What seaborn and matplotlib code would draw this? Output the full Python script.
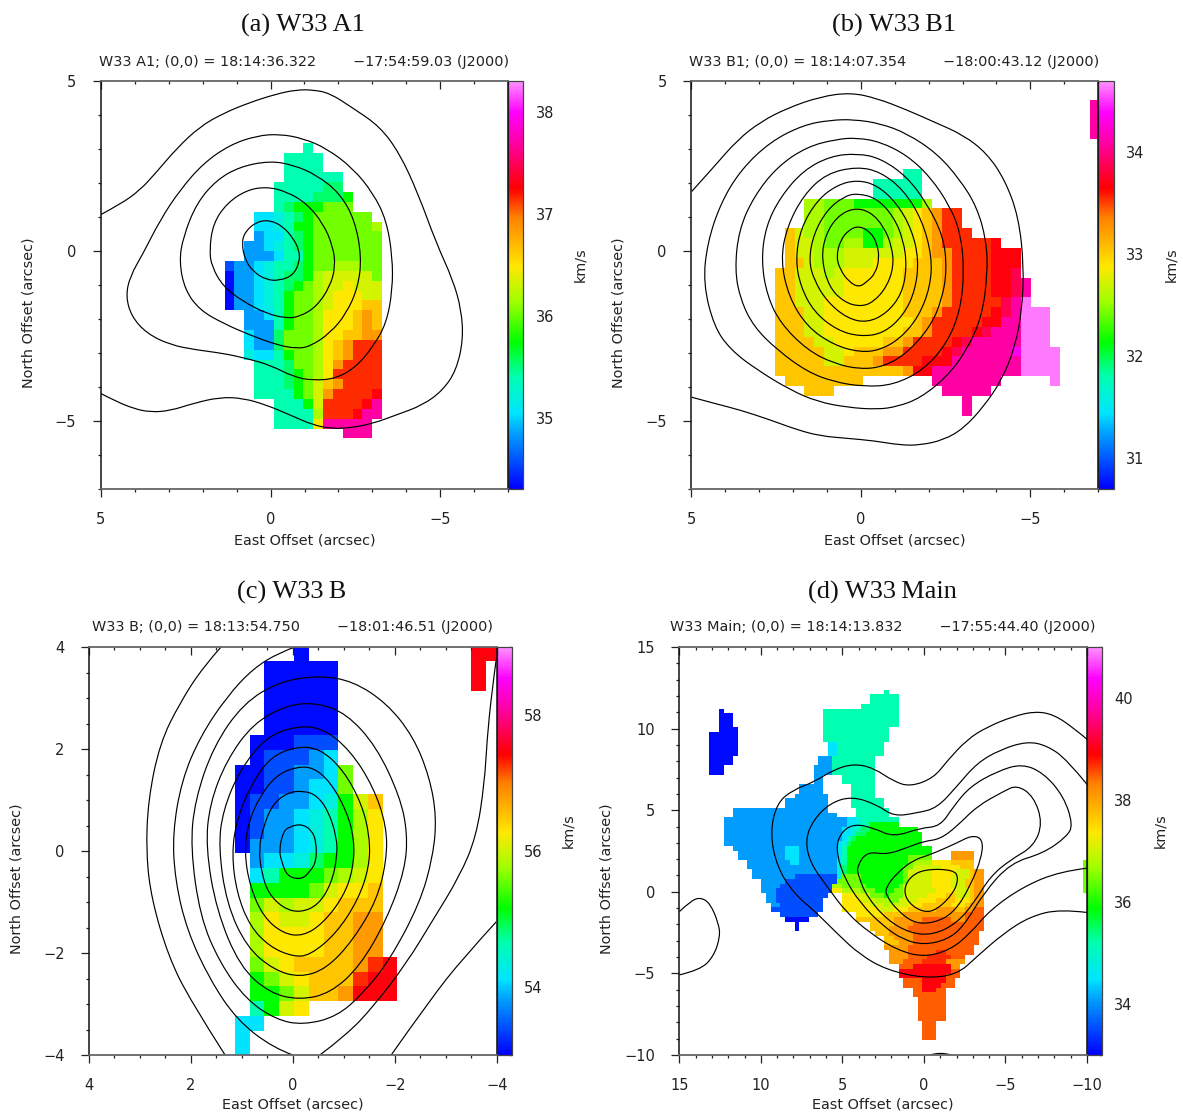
import re
import numpy as np
import matplotlib
matplotlib.use('Agg')
import matplotlib.pyplot as plt
from matplotlib.colors import LinearSegmentedColormap
from matplotlib.patches import PathPatch
from matplotlib.path import Path
from matplotlib.ticker import MultipleLocator
import seaborn as sns

# Each letter in the rows below is a velocity read from the colour of a cell,
# given as the fraction of that panel's colour bar range.
LEVELS = {'B': .01, 'b': .07, 'a': .135, 'C': .185, 'c': .225, 't': .275, 'g': .31, 'G': .36,
          'l': .43, 'L': .47, 'y': .505, 'Y': .545, 'o': .585, 'O': .635, 'q': .685, 'r': .712, 'R': .745,
          'p': .79, 'm': .85, 'M': .91, 'P': .985}

# (first column, cells), '.' is a blank cell
A1_ROWS = [(8, 't'), (6, 'tttt'), (6, 'tttt'), (6, 'tttttt'), (5, 'tttttgg'), (5, 'ttttgggG'),
           (5, 'tgGGGlll'), (3, 'CCctgGllllll'), (3, 'CCctGGllllllL'), (3, 'aCCtgGlllllll'),
           (2, 'aaCctgGlllllll'), (2, 'aaaCttGlllllll'), (0, 'baaCcttgGllLLLll'), (0, 'BaaCctggGLyyyyyl'),
           (0, 'BaaCctgGlLyyYyyy'), (0, 'BaaCctGllLyYYYyy'), (0, 'BaaCctGllLyYYYoo'), (2, 'aaCtGllLYYYoOo'),
           (2, 'aaatGllLYYYoOo'), (2, 'CaaglllLYYooOO'), (2, 'CaaglllLYoOrrr'), (2, 'cCCtGllLYoOrrr'),
           (3, 'tttgllLYOrrrr'), (3, 'tttgGlLYrrrrr'), (3, 'tttgGlyoOrrrr'), (3, 'ttttGlyOrrrrR'),
           (5, 'tttGyrrrrRm'), (5, 'ttttLrrrRmm'), (5, 'ttttYmmmmm'), (12, 'mmm')]

B1_ROWS = [(32, 'm'), (32, 'm'), (32, 'm'), (32, 'm'), (0, ''), (0, ''), (0, ''),
           (13, 'tt'), (10, 'ttttt'), (10, 'ttttt'), (3, 'LLlllGGGGGGGL'), (3, 'LLlllllllLyYoOrr'),
           (3, 'LLlllllllLyYoOrr'), (1, 'oyLLllllGGlLyYoOrrr'), (1, 'oyyLllLLGGLyyYoOrrrrrR'),
           (1, 'oyyLLLyyyyyyYYoOOrrrrRRR'), (1, 'ooyLLLyyyYYYYoooOrrrrRRR'), (0, 'ooyyyLyYYYYYYooooOrrrrRRp'),
           (0, 'ooyyyyyYYYYYYooooOrrrrRRpm'), (0, 'ooyyyyyYYYYYYooooOrrrrRRpm'), (0, 'ooyyyYYYYYYYYooooOrrrrrpmP'),
           (0, 'oooyyYYYYYYYYoooOrrrrrRpmPPP'), (0, 'oooyyYYYYYYYYYoOrrrrrRRmmPPP'),
           (0, 'oooyyYYYYYYYYooOrrrrRpmmmPPP'), (0, 'ooooyyYYYYYooOrrrrRpmmmmmPPP'),
           (0, 'oooooyyYoooOOrrrrRpmmmmmMPPPP'), (0, 'oooooyyoooOrrrrRRRmmmmmmmPPPP'),
           (0, 'oooooooooooooORRmmmmmmmmmPPPP'), (1, 'oooooooo.......mmmmmmm.....P'),
           (3, 'ooo...........mmmmm'), (19, 'm'), (19, 'm')]

B_ROWS = [(4, 'B...........RR'), (2, 'BBBBB.........R'), (2, 'BBBBB.........R'), (2, 'BBBBB'), (2, 'BBBBB'),
          (2, 'BBBBB'), (1, 'BBBbbb'), (1, 'BbbbaC'), (0, 'BBbbaaCl'), (0, 'BBbbaCCl'), (0, 'BbbaaCcGyo'),
          (0, 'BbaaCctGLY'), (0, 'BbaaCctGLY'), (0, 'BaaaCctGLY'), (1, 'aCCcgGGLY'), (1, 'CtGGGlLyY'),
          (1, 'GGGGlyYYo'), (1, 'lyLyyYooo'), (1, 'LYyyYooOO'), (1, 'LYYYYooOO'), (1, 'LYYYYooOO'),
          (1, 'lyYooooOrR'), (1, 'GlyYooorRR'), (1, 'GGlyooORRR'), (1, 'tGyY'), (0, 'CC'), (0, 'C'), (0, 'C')]

# W33 Main has finer cells, so its rows are runs: first-last column + letter
MAIN_ROWS = ["37t", "34-39t", "34-39t", "32-39t", "2B 24-39t", "2-4B 24-39t", "2-4B 24-39t", "2-4B 24-39t",
             "2-5B 24-37t", "0-5B 24-37t", "0-5B 24-37t", "0-5B 25-26C 27-36t", "0-5B 25-26C 27-36t",
             "0-5B 25-26C 27-36t", "0-4B 23-25a 26-34t", "0-4B 23-25a 26-34t", "0-2B 22-25a 26-34t",
             "0-2B 22-25a 26-34t", "22-23a 28-34t", "22-23a 28-34t", "19-23a 30-34t", "19-23a 30-34t",
             "18-24a 30-34t", "16-24a 30-36t", "16-24a 30-36t", "5-24a 31-37t", "5-26a 31-37t",
             "3-28a 29-30C 31c 32-39t", "3-28a 29-30C 31c 32-33t 34-39G",
             "3-27a 28-29C 30c 31t 32-33g 34-43G", "3-27a 28-29C 30c 31-32g 33-44G",
             "3-27a 28C 29t 30g 31-44G", "3-26a 27C 28c 29g 30-44G",
             "5-15a 16-18C 19-26a 27C 28t 29-46G", "6-15a 16-18C 19-26a 27C 28t 29-46G 51-55O",
             "6-15a 16-18C 19-26a 27C 28t 29-41G 42-46l 51-55O",
             "8-16a 17-18C 19-26a 27c 28t 29-41G 42l 43-46L 47-50Y 51-55o 79-80l",
             "8-26a 27c 28g 29-40G 41-42l 43-48y 49-52Y 53-55o 79-80l",
             "9-26a 27c 28g 29-40G 41l 42-46y 47-51Y 52-54y 55o 56-57O 79-80l",
             "9-17a 18-26b 27c 28-31l 32-40G 41l 42-46y 47-50Y 51-54y 55o 56-57O 79-80l",
             "11-15a 16-26b 27-31l 32-40G 41l 42-46y 47-50Y 51-53y 54-55o 56-57O 79-80l",
             "11-14a 15-25b 26-27L 28-32l 33-39G 40l 41-46y 47-50Y 51-53y 54-55o 56-57O 79-80l",
             "11-13a 14-25b 26-27Y 28-31L 32-34l 35-38G 39-40l 41-47y 48-51Y 52-54y 55o 56-57O 79-80l",
             "12-13a 14-24b 28-30Y 31-33y 34-36l 37G 38-40l 41-45y 46-49Y 50-51o 52-54y 55o 56-57O",
             "12-13a 14-23b 28-31Y 32-34y 35-37L 38-39l 40-43y 44-47Y 48-51o 52-54Y 55o 56-57O",
             "13-14a 15-23b 28-33Y 34-36y 37L 38-41y 42-44Y 45-50o 51-53Y 54o 55-57O",
             "13-23b 28-35Y 36-38y 39-41Y 42-47o 48-51O 52-53o 54-55O 56-57q",
             "15-22b 31-36Y 37-40o 41-53O 54-57q", "16-20B 31-38o 39-44O 45-50q 51-53O 54-57q",
             "18B 34-38o 39-42O 43-57q", "18B 34-37o 38-41O 42-57q", "35-37o 38-42O 43-56q",
             "37-38o 39-42O 43-56q", "37-39o 40-42O 43-56q", "37-41O 42-55q", "38-41O 42-47q 48-49r 50-55q",
             "38-41O 42-45q 46-50r 51-53q", "38-40O 41-44q 45-49r 50-53O", "40-42q 43-50R 51-52O",
             "40-50R 51-52q", "40-49R 50-52q", "41-44q 45-49R 50-51q", "41-44q 45-48R 49-51q",
             "43-44q 45-47R 48-49q", "43-49q", "44-49q", "44-49q", "44-49q", "44-49q", "44-49q",
             "45-47q", "45-47q", "45-47q", "45-47q"]

# Contours in arcsec, (east, north).
A1_OPEN = [[(5.0, 1.07), (4.43, 1.37), (3.84, 1.79), (3.35, 2.33), (2.76, 3.02), (2.08, 3.66), (1.39, 4.05),
            (0.61, 4.37), (-0.18, 4.62), (-0.76, 4.74), (-1.25, 4.74), (-1.75, 4.64), (-2.43, 4.20), (-3.22, 3.66),
            (-3.80, 2.87), (-4.34, 1.70), (-4.88, 0.23), (-5.37, -0.85), (-5.62, -1.74), (-5.67, -2.62),
            (-5.47, -3.50), (-5.08, -4.09), (-4.49, -4.53), (-3.71, -4.82), (-3.02, -5.07), (-2.43, -5.19),
            (-1.84, -5.23), (-1.25, -5.12), (-0.57, -4.82), (0.12, -4.53), (0.80, -4.33), (1.49, -4.30),
            (2.27, -4.48), (2.96, -4.70), (3.55, -4.74), (4.04, -4.63), (4.53, -4.43), (5.0, -4.19)]]
A1_CLOSED = [[(4.26, -1.34), (4.14, -0.75), (3.75, -0.07), (3.25, 0.91), (2.67, 1.79), (1.98, 2.58), (1.20, 3.12),
              (0.41, 3.39), (-0.27, 3.44), (-0.96, 3.31), (-1.65, 3.02), (-2.43, 2.43), (-3.02, 1.70), (-3.41, 0.91),
              (-3.59, -0.17), (-3.59, -1.15), (-3.41, -2.13), (-3.02, -2.81), (-2.53, -3.40), (-1.94, -3.75),
              (-1.25, -3.81), (-0.67, -3.70), (0.02, -3.35), (0.71, -3.16), (1.39, -3.01), (2.18, -2.91),
              (2.96, -2.76), (3.65, -2.42), (4.09, -1.93)],
             [(2.69, -0.31), (2.57, 0.42), (2.18, 1.40), (1.59, 2.09), (0.90, 2.48), (0.02, 2.65), (-0.67, 2.53),
              (-1.35, 2.24), (-2.04, 1.70), (-2.48, 0.91), (-2.68, -0.17), (-2.58, -1.05), (-2.24, -1.83),
              (-1.75, -2.42), (-1.16, -2.81), (-0.76, -2.87), (-0.18, -2.76), (0.61, -2.47), (1.39, -2.13),
              (2.08, -1.74), (2.52, -1.15)],
             [(1.80, 0.03), (1.69, 0.81), (1.29, 1.40), (0.71, 1.79), (0.12, 1.89), (-0.47, 1.75), (-1.06, 1.40),
              (-1.55, 0.81), (-1.84, 0.13), (-1.91, -0.46), (-1.75, -1.05), (-1.35, -1.64), (-0.86, -1.93),
              (-0.47, -1.98), (0.12, -1.84), (0.80, -1.49), (1.39, -1.05), (1.73, -0.46)],
             [(0.85, 0.23), (0.75, 0.57), (0.41, 0.86), (0.02, 0.91), (-0.37, 0.72), (-0.67, 0.37), (-0.84, 0.03),
              (-0.86, -0.31), (-0.67, -0.71), (-0.27, -0.87), (0.12, -0.85), (0.51, -0.61), (0.75, -0.26)]]

B1_OPEN = [[(4.98, 1.75), (4.32, 2.48), (3.64, 3.26), (2.95, 3.80), (2.17, 4.20), (1.19, 4.54), (0.30, 4.66),
            (-0.48, 4.49), (-1.36, 4.15), (-2.15, 3.80), (-3.03, 3.41), (-3.72, 2.87), (-4.25, 2.09), (-4.65, 1.01),
            (-4.81, -0.46), (-4.75, -1.74), (-4.55, -2.81), (-4.16, -3.79), (-3.62, -4.58), (-3.03, -5.22),
            (-2.44, -5.56), (-1.75, -5.71), (-1.17, -5.71), (-0.38, -5.58), (0.40, -5.51), (1.19, -5.44),
            (1.87, -5.26), (2.66, -4.97), (3.54, -4.68), (4.32, -4.48), (4.98, -4.30)]]
B1_CLOSED = [[(4.64, -0.95), (4.52, 0.23), (4.13, 1.40), (3.54, 2.38), (2.66, 3.22), (1.68, 3.71), (0.89, 3.85),
              (0.21, 3.87), (-0.58, 3.75), (-1.36, 3.46), (-2.25, 2.87), (-2.93, 2.09), (-3.42, 1.30), (-3.70, 0.32),
              (-3.74, -0.66), (-3.57, -1.93), (-3.13, -2.91), (-2.54, -3.70), (-1.75, -4.33), (-1.07, -4.58),
              (-0.48, -4.66), (0.40, -4.60), (1.28, -4.43), (2.07, -4.09), (3.05, -3.50), (3.83, -2.91), (4.32, -2.23)],
             [(3.71, -0.56), (3.59, 0.62), (3.15, 1.60), (2.46, 2.48), (1.58, 3.07), (0.70, 3.29), (0.11, 3.33),
              (-0.58, 3.21), (-1.36, 2.82), (-2.05, 2.18), (-2.64, 1.30), (-2.94, 0.52), (-3.05, -0.56), (-2.94, -1.74),
              (-2.54, -2.72), (-1.85, -3.50), (-0.97, -3.94), (-0.09, -3.99), (0.79, -3.85), (1.58, -3.55),
              (2.46, -2.91), (3.15, -2.23), (3.54, -1.44)],
             [(2.93, -0.31), (2.80, 0.72), (2.36, 1.60), (1.68, 2.38), (0.89, 2.79), (0.11, 2.87), (-0.58, 2.73),
              (-1.36, 2.19), (-1.95, 1.40), (-2.44, 0.42), (-2.54, -0.56), (-2.39, -1.44), (-2.05, -2.23),
              (-1.36, -3.01), (-0.68, -3.40), (0.01, -3.48), (0.79, -3.31), (1.58, -2.91), (2.36, -2.13), (2.75, -1.34)],
             [(2.36, -0.26), (2.17, 0.72), (1.68, 1.65), (1.01, 2.28), (0.11, 2.48), (-0.58, 2.33), (-1.27, 1.79),
              (-1.81, 0.91), (-2.10, -0.17), (-2.05, -1.05), (-1.71, -1.93), (-1.17, -2.57), (-0.58, -2.91),
              (0.01, -2.98), (0.79, -2.77), (1.58, -2.23), (2.12, -1.35)],
             [(1.92, -0.26), (1.77, 0.67), (1.28, 1.50), (0.70, 1.94), (0.11, 2.09), (-0.48, 1.94), (-1.07, 1.40),
              (-1.51, 0.62), (-1.71, -0.26), (-1.61, -1.15), (-1.27, -1.88), (-0.68, -2.42), (0.01, -2.52),
              (0.70, -2.33), (1.38, -1.79), (1.77, -1.05)],
             [(1.53, -0.26), (1.38, 0.52), (0.99, 1.21), (0.50, 1.60), (0.11, 1.70), (-0.48, 1.55), (-0.97, 1.01),
              (-1.26, 0.32), (-1.36, -0.46), (-1.22, -1.25), (-0.77, -1.83), (-0.19, -2.11), (0.40, -1.98),
              (0.99, -1.49), (1.38, -0.85)],
             [(1.16, -0.22), (1.04, 0.47), (0.70, 1.01), (0.21, 1.27), (-0.28, 1.16), (-0.68, 0.72), (-0.92, 0.13),
              (-0.97, -0.46), (-0.77, -1.05), (-0.38, -1.50), (0.01, -1.64), (0.50, -1.50), (0.94, -1.05)],
             [(0.72, -0.17), (0.60, 0.32), (0.35, 0.62), (0.06, 0.74), (-0.28, 0.57), (-0.48, 0.23), (-0.55, -0.22),
              (-0.43, -0.66), (-0.19, -0.90), (0.06, -1.07), (0.35, -0.90), (0.60, -0.56)]]

B_OPEN = [[(-0.07, 4.01), (0.25, 3.90), (0.78, 3.58), (1.30, 3.02), (1.82, 2.24), (2.18, 1.39), (2.36, 0.35),
           (2.31, -0.57), (2.08, -1.55), (1.63, -2.52), (1.10, -3.31), (0.39, -3.86), (0.00, -4.00)],
          [(1.40, 4.01), (1.76, 3.61), (2.22, 2.90), (2.61, 2.11), (2.84, 1.00), (2.88, -0.05), (2.77, -0.96),
           (2.44, -2.07), (2.02, -2.92), (1.33, -4.00)],
          [(-3.99, 3.75), (-3.90, 3.09), (-3.81, 2.18), (-3.76, 1.33), (-3.60, 0.28), (-3.27, -0.50), (-2.75, -1.35),
           (-2.23, -2.20), (-1.58, -3.05), (-1.05, -3.61), (-0.53, -4.00)],
          [(-3.99, -1.39), (-3.34, -2.10), (-2.69, -2.92), (-1.93, -4.00)]]
B_CLOSED = [[(0.27, 0.02), (0.19, 0.38), (0.06, 0.48), (-0.17, 0.53), (-0.37, 0.41), (-0.46, 0.18), (-0.46, -0.21),
             (-0.33, -0.41), (-0.17, -0.56), (0.11, -0.50), (0.22, -0.21)],
            [(0.67, 0.02), (0.58, 0.48), (0.39, 0.93), (0.09, 1.15), (-0.20, 1.18), (-0.46, 1.10), (-0.69, 0.80),
             (-0.86, 0.28), (-0.87, -0.11), (-0.76, -0.63), (-0.50, -1.06), (-0.14, -1.21), (0.19, -1.12),
             (0.48, -0.83), (0.61, -0.44)],
            [(0.95, -0.05), (0.88, 0.54), (0.65, 1.07), (0.32, 1.49), (-0.07, 1.65), (-0.40, 1.64), (-0.73, 1.36),
             (-1.05, 0.80), (-1.21, 0.22), (-1.18, -0.37), (-0.99, -0.90), (-0.59, -1.42), (-0.20, -1.67),
             (0.19, -1.62), (0.58, -1.29), (0.84, -0.70)],
            [(1.20, -0.05), (1.10, 0.61), (0.84, 1.26), (0.45, 1.84), (-0.07, 2.05), (-0.53, 2.01), (-0.99, 1.59),
             (-1.35, 0.93), (-1.51, 0.28), (-1.50, -0.31), (-1.28, -0.96), (-0.85, -1.62), (-0.33, -2.05),
             (0.00, -2.07), (0.45, -1.88), (0.84, -1.48), (1.10, -0.83)],
            [(1.46, 0.08), (1.37, 0.80), (1.04, 1.59), (0.52, 2.24), (-0.07, 2.45), (-0.59, 2.41), (-1.12, 1.98),
             (-1.58, 1.26), (-1.84, 0.48), (-1.84, -0.18), (-1.65, -0.96), (-1.18, -1.75), (-0.66, -2.31),
             (-0.14, -2.48), (0.38, -2.33), (0.91, -1.88), (1.30, -1.03)],
            [(1.71, 0.08), (1.63, 0.93), (1.30, 1.78), (0.78, 2.50), (0.12, 2.86), (-0.46, 2.91), (-1.05, 2.70),
             (-1.64, 2.05), (-2.10, 1.07), (-2.25, 0.35), (-2.20, -0.37), (-1.84, -1.35), (-1.31, -2.27),
             (-0.73, -2.79), (-0.14, -2.92), (0.45, -2.79), (1.04, -2.27), (1.50, -1.16)],
            [(2.01, 0.08), (1.92, 1.00), (1.56, 2.05), (0.97, 2.90), (0.25, 3.33), (-0.53, 3.44), (-1.18, 3.33),
             (-1.84, 2.90), (-2.36, 2.25), (-2.68, 1.46), (-2.82, 0.67), (-2.75, -0.11), (-2.49, -1.03),
             (-1.90, -2.14), (-1.38, -2.79), (-0.86, -3.25), (-0.20, -3.41), (0.32, -3.31), (0.91, -2.92),
             (1.43, -2.20), (1.82, -1.29)]]

MAIN_OPEN = [[(-10.02, 9.33), (-9.18, 10.04), (-7.96, 10.86), (-6.83, 11.06), (-5.50, 10.76), (-3.87, 10.10),
              (-2.64, 9.33), (-1.41, 8.00), (-0.59, 6.97), (0.84, 6.44), (1.86, 6.77), (3.09, 7.59), (4.31, 7.85),
              (5.54, 7.48), (6.77, 6.71), (8.00, 6.26), (9.02, 5.44), (9.43, 3.60), (9.02, 1.55), (8.00, -0.08),
              (6.56, -1.31), (5.34, -2.54), (3.91, -3.87), (2.27, -4.79), (0.02, -5.30), (-2.02, -5.09),
              (-3.25, -3.97), (-4.89, -2.54), (-6.52, -1.51), (-8.36, -1.06), (-10.02, -1.27)],
             [(-10.02, 6.56), (-8.77, 8.10), (-7.55, 8.96), (-6.32, 9.22), (-4.68, 8.71), (-3.25, 7.89), (-2.02, 6.46),
              (-0.80, 5.13), (0.43, 4.83), (1.86, 4.62), (2.88, 5.34), (4.42, 5.85), (5.75, 5.44), (6.77, 4.42),
              (7.28, 3.19), (6.97, 1.76), (5.95, 0.33), (4.72, -1.31), (3.29, -2.54), (1.66, -3.56), (0.02, -4.01),
              (-1.62, -3.56), (-2.84, -2.54), (-4.07, -1.10), (-6.11, 0.33), (-8.36, 1.25), (-10.02, 1.45)],
             [(14.99, -1.21), (14.34, -0.59), (13.72, -0.33), (13.11, -0.70), (12.60, -1.92), (12.49, -2.74),
              (12.90, -3.97), (13.72, -4.79), (14.99, -5.09)],
             [(-0.39, -10.0), (-1.00, -9.80), (-1.66, -10.0)]]
MAIN_CLOSED = [[(-9.14, 4.11), (-8.57, 5.85), (-7.34, 7.28), (-6.01, 7.85), (-4.48, 7.38), (-2.84, 6.46), (-1.82, 5.24),
                (-1.00, 4.01), (0.22, 3.91), (1.86, 3.35), (3.09, 3.91), (4.31, 4.17), (5.13, 3.60), (5.40, 2.58),
                (4.93, 0.94), (3.91, -0.70), (2.47, -2.13), (1.25, -2.94), (0.02, -3.25), (-1.41, -2.94),
                (-2.43, -2.13), (-3.66, -0.08), (-5.30, 1.76), (-7.34, 2.37), (-8.77, 3.39)],
               [(4.11, 1.55), (3.50, 2.47), (2.27, 2.27), (0.84, 2.78), (0.02, 3.09), (-1.00, 3.23), (-2.02, 4.01),
                (-3.25, 5.24), (-4.89, 6.16), (-5.71, 6.54), (-6.73, 5.85), (-7.28, 4.21), (-6.73, 2.78), (-5.30, 1.96),
                (-4.07, 0.94), (-3.05, -0.70), (-2.02, -1.92), (-0.59, -2.64), (0.84, -2.54), (2.27, -1.72),
                (3.50, -0.29), (4.01, 0.94)],
               [(2.37, 0.22), (1.66, 1.15), (0.63, 1.96), (-0.39, 2.27), (-2.02, 2.99), (-2.94, 3.46), (-3.60, 3.25),
                (-3.56, 2.17), (-2.84, 0.33), (-1.82, -1.31), (-0.59, -1.92), (0.63, -1.92), (1.66, -1.10), (2.27, -0.29)],
               [(1.25, 0.12), (0.84, 0.94), (-0.08, 1.39), (-1.82, 1.35), (-2.13, 0.84), (-1.82, -0.08), (-0.80, -1.10),
                (0.02, -1.27), (0.94, -0.70)]]

W, H = 1183, 1115

sns.set_style('white')
plt.rcParams['font.family'] = ['DejaVu Sans']
plt.rcParams['axes.unicode_minus'] = True

velocity_map = LinearSegmentedColormap.from_list('velocity', [
    (0, '#0000ff'), (.136, '#00a0ff'), (.185, '#00e5ff'), (.275, '#00ffb0'), (.36, '#00ff00'),
    (.46, '#a0ff00'), (.545, '#ffe800'), (.667, '#ff8000'), (.737, '#ff0000'), (.847, '#ff00a0'),
    (.925, '#ff00ff'), (1, '#ff90ff')])


def run_row(text):
    cells = []
    for first, last, key in re.findall(r'(\d+)(?:-(\d+))?([A-Za-z])', text):
        first = int(first)
        last = int(last) if last else first
        cells += ['.'] * (first - len(cells)) + [key] * (last - first + 1)
    return (0, ''.join(cells))


def build_grid(rows, vmin, vmax):
    width = max(start + len(cells) for start, cells in rows)
    grid = np.full((len(rows), width), np.nan)
    for i, (start, cells) in enumerate(rows):
        for j, key in enumerate(cells):
            if key != '.':
                grid[i, start + j] = vmin + LEVELS[key] * (vmax - vmin)
    return grid


def to_fig(x0, y0, x1, y1):
    return [x0 / W, 1 - y1 / H, (x1 - x0) / W, (y1 - y0) / H]


def put_text(x, y, s, **kw):
    fig.text(x / W, 1 - y / H, s, ha='center', va='center', **kw)


def contour_path(points, closed):
    # the read points are the control points of a curve, as the contours are smooth
    pts = np.array(points, dtype=float)
    if closed:
        mids = (pts + np.roll(pts, -1, axis=0)) / 2
        verts = [mids[-1]]
        for p, m in zip(pts, mids):
            verts += [p, m]
    else:
        mids = (pts[1:-1] + pts[2:]) / 2
        verts = [pts[0]]
        for p, m in zip(pts[1:-1], mids[:-1]):
            verts += [p, m]
        verts += [pts[-2], pts[-1]]
    codes = [Path.MOVETO] + [Path.CURVE3] * (len(verts) - 1)
    return Path(verts, codes)


def draw_panel(rect, cbar_right, limits, origin, rows, open_lines, closed_lines, v_range, major, minor, cb_minor):
    x0, y0, x1, y1 = rect
    xl, xr, yb, yt = limits
    ox, oy = origin
    vmin, vmax = v_range
    dx = 0.29

    ax_h = fig.add_axes(to_fig(x0, y0, x1, y1))
    cax = fig.add_axes(to_fig(x1, y0, cbar_right, y1))
    sns.heatmap(build_grid(rows, vmin, vmax), ax=ax_h, cbar_ax=cax, cmap=velocity_map, vmin=vmin, vmax=vmax,
                xticklabels=False, yticklabels=False, linewidths=0)
    ax_h.set_xlim((ox - xl) / dx, (ox - xr) / dx)
    ax_h.set_ylim((oy - yb) / dx, (oy - yt) / dx)
    ax_h.axis('off')

    cb = ax_h.collections[0].colorbar
    first = np.ceil(vmin)
    if major[1] == 2:
        first = np.ceil(vmin / 2) * 2
    cb.set_ticks(np.arange(first, vmax + .01, major[1]))
    cax.yaxis.set_minor_locator(MultipleLocator(cb_minor))
    cax.tick_params(axis='y', which='major', direction='in', right=True, left=False, length=6, width=.9,
                    color='#111111', labelsize=10.5, pad=9, labelcolor='#222222')
    cax.tick_params(axis='y', which='minor', direction='in', right=True, left=False, length=2.5, width=.9,
                    color='#111111')
    cb.outline.set_visible(True)
    cb.outline.set_linewidth(.9)
    cb.outline.set_edgecolor('#444444')

    ax = fig.add_axes(to_fig(x0, y0, x1, y1))
    ax.patch.set_visible(False)
    for line in open_lines:
        ax.add_patch(PathPatch(contour_path(line, False), fill=False, edgecolor='black', linewidth=.85))
    for line in closed_lines:
        ax.add_patch(PathPatch(contour_path(line, True), fill=False, edgecolor='black', linewidth=.85))
    ax.set_xlim(xl, xr)
    ax.set_ylim(yb, yt)
    ax.xaxis.set_major_locator(MultipleLocator(major[0]))
    ax.yaxis.set_major_locator(MultipleLocator(major[0]))
    ax.xaxis.set_minor_locator(MultipleLocator(minor))
    ax.yaxis.set_minor_locator(MultipleLocator(minor))
    ax.tick_params(axis='both', which='major', length=5.5, width=.9, color='#222222', labelsize=10.5,
                   labelcolor='#222222', left=True, bottom=True)
    ax.tick_params(axis='both', which='minor', length=2.5, width=.9, color='#222222', left=True, bottom=True)
    ax.tick_params(axis='x', which='both', top=False, direction='out', pad=11)
    ax.tick_params(axis='y', which='both', right=False, direction='out', pad=12)
    # top ticks point inwards
    top = ax.secondary_xaxis('top')
    top.xaxis.set_major_locator(MultipleLocator(major[0]))
    top.xaxis.set_minor_locator(MultipleLocator(minor))
    top.tick_params(axis='x', which='major', direction='in', length=5.5, width=.9, color='#222222', labeltop=False)
    top.tick_params(axis='x', which='minor', direction='in', length=2.5, width=.9, color='#222222')
    top.spines['top'].set_visible(False)
    for side in ['top', 'bottom']:
        ax.spines[side].set_color('#666666')
        ax.spines[side].set_linewidth(1.3)
    ax.spines['left'].set_color('#111111')
    ax.spines['left'].set_linewidth(1.1)
    ax.spines['right'].set_color('#111111')
    ax.spines['right'].set_linewidth(1.1)


fig = plt.figure(figsize=(W / 100, H / 100), dpi=100)

draw_panel((100.7, 81, 508.3, 489), 523, (5, -7, -7, 5), (1.353, 3.186), A1_ROWS, A1_OPEN, A1_CLOSED,
           (34.3, 38.3), (5, 1), 1, .2)
draw_panel((691, 81, 1098.3, 489), 1113.5, (5, -7, -7, 5), (2.53, 4.44), B1_ROWS, B1_OPEN, B1_CLOSED,
           (30.7, 34.7), (5, 1), 1, .2)
draw_panel((89, 647, 496.7, 1055), 511.7, (4, -4, -4, 4), (1.137, 4.015), B_ROWS, B_OPEN, B_CLOSED,
           (53, 59), (2, 2), .5, .5)
draw_panel((679.3, 647, 1087, 1055), 1101.7, (15, -10, -10, 15), (13.15, 12.39),
           [run_row(r) for r in MAIN_ROWS], MAIN_OPEN, MAIN_CLOSED, (33, 41), (5, 2), 1, .5)

TITLES = ['(a) W33\u2009A1', '(b) W33\u2009B1', '(c) W33\u2009B', '(d) W33\u2009Main']
TITLE_POS = [(303, 25), (894, 25), (292, 592), (882, 592)]
GAP = '        '
HEADERS = ['W33 A1; (0,0) = 18:14:36.322' + GAP + '\u221217:54:59.03 (J2000)',
           'W33 B1; (0,0) = 18:14:07.354' + GAP + '\u221218:00:43.12 (J2000)',
           'W33 B; (0,0) = 18:13:54.750' + GAP + '\u221218:01:46.51 (J2000)',
           'W33 Main; (0,0) = 18:14:13.832' + GAP + '\u221217:55:44.40 (J2000)']
HEADER_POS = [(304, 62), (894, 62), (293, 627), (883, 627)]
XLABEL_POS = [(304.5, 540), (895, 540), (293, 1105), (883, 1105)]
YLABEL_POS = [(28, 313), (618, 313), (17, 879), (607, 879)]
CBAR_LABEL_POS = [(580, 265), (1171, 265), (568, 831), (1160, 831)]

for i in range(4):
    put_text(*TITLE_POS[i], TITLES[i], family='Liberation Serif', fontsize=19, color='#111111')
    put_text(*HEADER_POS[i], HEADERS[i], fontsize=10.4, color='#222222')
    put_text(*XLABEL_POS[i], 'East Offset (arcsec)', fontsize=10.4, color='#222222')
    put_text(*YLABEL_POS[i], 'North Offset (arcsec)', fontsize=10.4, color='#222222', rotation=90)
    put_text(*CBAR_LABEL_POS[i], 'km/s', fontsize=10.4, color='#222222', rotation=90)

fig.savefig('out.png', dpi=100)
